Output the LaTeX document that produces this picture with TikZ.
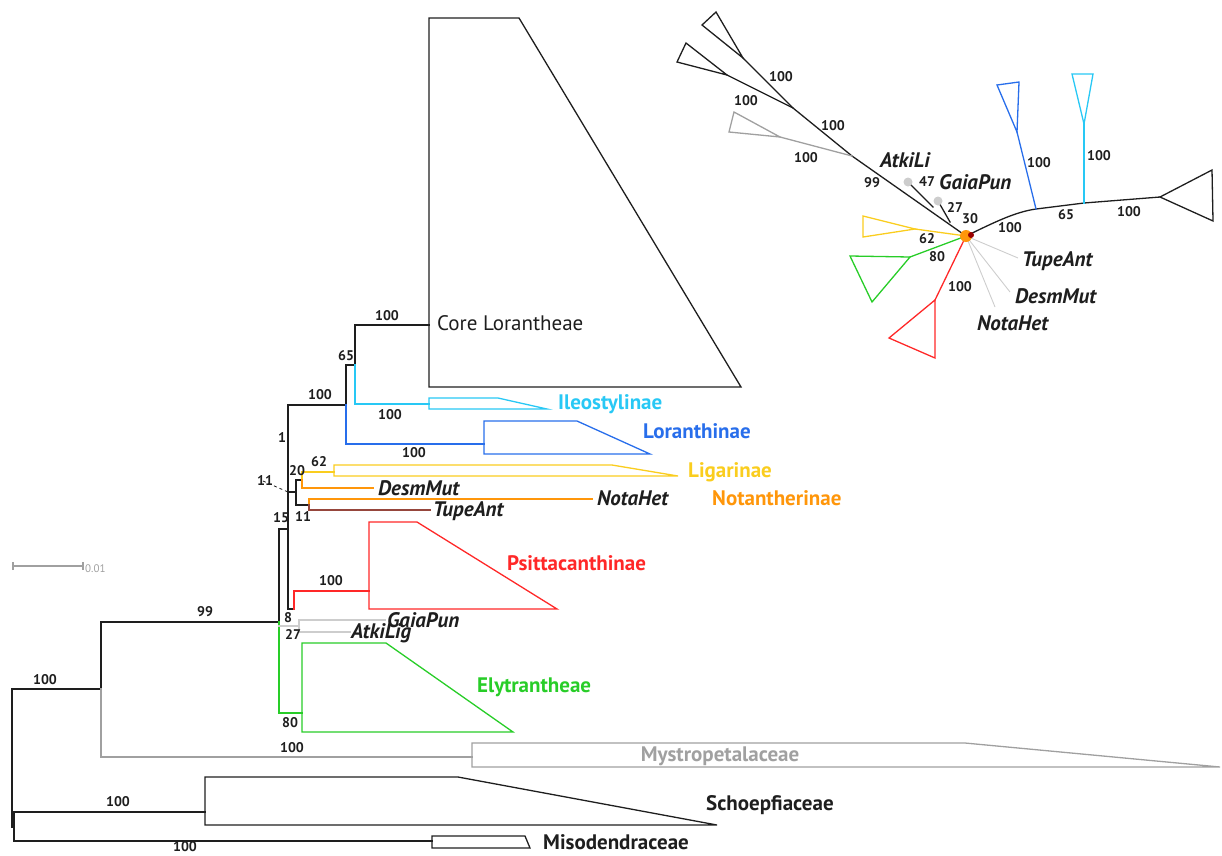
\documentclass[tikz,border=0pt]{standalone}
\usepackage{fontspec}
\setmainfont{PT Sans}
\definecolor{cyanc}{RGB}{40,200,245}
\definecolor{bluec}{RGB}{40,110,235}
\definecolor{yelc}{RGB}{250,205,30}
\definecolor{orac}{RGB}{255,150,10}
\definecolor{redc}{RGB}{255,40,40}
\definecolor{grnc}{RGB}{40,205,40}
\definecolor{grayc}{RGB}{160,160,160}
\definecolor{lgray}{RGB}{205,205,205}
\definecolor{brnc}{RGB}{150,70,60}
\definecolor{ink}{RGB}{30,30,30}
\begin{document}
\begin{tikzpicture}[x=1pt,y=-1pt,
  br/.style={line width=1.3pt, line cap=rect, draw=ink},
  clade/.style={line width=1.3pt, line join=miter},
  bs/.style={font=\bfseries\fontsize{14}{14}\selectfont, inner sep=0pt, text=ink},
  tx/.style={font=\fontsize{21}{21}\selectfont, inner sep=0pt, anchor=west, text=ink},
  txb/.style={font=\bfseries\fontsize{21}{21}\selectfont, inner sep=0pt, anchor=west},
  it/.style={font=\bfseries\itshape\fontsize{21}{21}\selectfont, inner sep=0pt, anchor=west, text=ink}]
\useasboundingbox (0,0) rectangle (1222,855);

% ---------- rooted tree: node positions ----------
\coordinate (r0) at (12,689);
\coordinate (r1) at (12,827);
\coordinate (og) at (14,827);
\coordinate (ogS) at (14,812);
\coordinate (ogM) at (14,841);
\coordinate (schL) at (205,812);
\coordinate (misL) at (432,841);
\coordinate (in) at (101,689);
\coordinate (inA) at (101,622);
\coordinate (inB) at (101,757);
\coordinate (mysL) at (472,757);
\coordinate (n99) at (279,622);
\coordinate (nA1) at (279,529);
\coordinate (nA2) at (279,713);
\coordinate (elyL) at (302,713);
\coordinate (bb1) at (288,529);
\coordinate (bbT) at (288,405);
\coordinate (bbB) at (288,609);
\coordinate (psN) at (294,609);
\coordinate (psK) at (294,591);
\coordinate (psL) at (369,591);
\coordinate (gaN) at (279,626);
\coordinate (gaK) at (299,626);
\coordinate (gaT) at (299,620);
\coordinate (gaB) at (299,632);
\coordinate (gaE) at (385,620);
\coordinate (atE) at (350,632);
\coordinate (n65) at (346,405);
\coordinate (n65T) at (346,365);
\coordinate (n65B) at (346,444);
\coordinate (lorL) at (484,444);
\coordinate (nCo) at (355,365);
\coordinate (nCoT) at (355,325);
\coordinate (nCoB) at (355,404);
\coordinate (corL) at (429,325);
\coordinate (ileL) at (429,404);
\coordinate (n11a) at (288,492);
\coordinate (n11aR) at (296,492);
\coordinate (n11aT) at (296,480);
\coordinate (n11aB) at (296,505);
\coordinate (n20) at (302,480);
\coordinate (n20T) at (302,472);
\coordinate (n20B) at (302,488);
\coordinate (ligL) at (334,472);
\coordinate (desE) at (373,488);
\coordinate (n11) at (309,505);
\coordinate (n11T) at (309,499);
\coordinate (n11B) at (309,510);
\coordinate (notE) at (592,499);
\coordinate (tupE) at (430,510);
\coordinate (lead) at (263,481);

% ---------- rooted tree: branches ----------
\draw[br] (r0) -- (r1) -- (og);
\draw[br] (ogS) -- (ogM);
\draw[br] (ogS) -- (schL);
\draw[br] (ogM) -- (misL);
\draw[br] (r0) -- (in);
\draw[br] (in) -- (inA) -- (n99);
\draw[br,draw=grayc] (in) -- (inB) -- (mysL);
\draw[br] (n99) -- (nA1) -- (bb1);
\draw[br,draw=grnc] (n99) -- (nA2) -- (elyL);
\draw[br] (bbT) -- (bbB) -- (psN);
\draw[br,draw=redc] (psN) -- (psK) -- (psL);
\draw[br,draw=lgray] (gaN) -- (gaK);
\draw[br,draw=lgray] (gaE) -- (gaT) -- (gaB) -- (atE);
\draw[br] (bbT) -- (n65);
\draw[br] (n65) -- (n65T) -- (nCo);
\draw[br,draw=bluec] (n65) -- (n65B) -- (lorL);
\draw[br] (nCo) -- (nCoT) -- (corL);
\draw[br,draw=cyanc] (nCo) -- (nCoB) -- (ileL);
\draw[line width=2.6pt, draw=ink] (288,448) -- (n11a);
\draw[br] (n11a) -- (n11aR);
\draw[br] (n11aT) -- (n11aB);
\draw[br] (n11aT) -- (n20);
\draw[br,draw=yelc] (n20) -- (n20T) -- (ligL);
\draw[br,draw=orac] (n20) -- (n20B) -- (desE);
\draw[br] (n11aB) -- (n11);
\draw[br,draw=orac] (n11) -- (n11T) -- (notE);
\draw[br,draw=brnc] (n11) -- (n11B) -- (tupE);
\draw[dashed, line width=0.8pt, draw=ink] (lead) -- (n11a);

% ---------- collapsed clades ----------
\draw[clade,draw=ink] (429,18) -- (519,18) -- (741,387) -- (429,387) -- cycle;
\draw[clade,draw=cyanc] (429,398) -- (498,398) -- (547,409) -- (429,409) -- cycle;
\draw[clade,draw=bluec] (484,421) -- (577,421) -- (650,454) -- (484,454) -- cycle;
\draw[clade,draw=yelc] (334,465) -- (612,465) -- (678,476) -- (334,476) -- cycle;
\draw[clade,draw=redc] (369,522) -- (417,522) -- (557,609) -- (369,609) -- cycle;
\draw[clade,draw=grnc] (302,643) -- (386,643) -- (513,732) -- (302,732) -- cycle;
\draw[clade,draw=grayc] (472,743) -- (965,743) -- (1220,767) -- (472,767) -- cycle;
\draw[clade,draw=ink] (205,777) -- (458,777) -- (717,825) -- (205,825) -- cycle;
\draw[clade,draw=ink] (432,836) -- (525,836) -- (530,848) -- (432,848) -- cycle;

% ---------- rooted tree: labels ----------
\node[tx] (lCore) at (437,323) {Core Lorantheae};
\node[txb,text=cyanc] (lIle) at (558,404) {Ileostylinae};
\node[txb,text=bluec] (lLor) at (643,431) {Loranthinae};
\node[txb,text=yelc] (lLig) at (688,472) {Ligarinae};
\node[txb,text=orac] (lNot) at (712,498) {Notantherinae};
\node[txb,text=redc] (lPsi) at (507,563) {Psittacanthinae};
\node[txb,text=grnc] (lEly) at (477,687) {Elytrantheae};
\node[txb,text=grayc,anchor=center] (lMys) at (720,756) {Mystropetalaceae};
\node[txb,text=ink] (lSch) at (706,805) {Schoepfiaceae};
\node[txb,text=ink] (lMis) at (543,842) {Misodendraceae};
\node[it] (lDes) at (378,488) {DesmMut};
\node[it] (lNH) at (597,498) {NotaHet};
\node[it] (lTA) at (433,511) {TupeAnt};
\node[it] (lGP) at (387,620) {GaiaPun};
\node[it] (lAL) at (351,633) {AtkiLig};

\node[bs] (b1) at (45,680) {100};
\node[bs] (b2) at (205,612) {99};
\node[bs] (b3) at (292,748) {100};
\node[bs] (b4) at (118,802) {100};
\node[bs] (b5) at (185,847) {100};
\node[bs] (b6) at (281,518) {15};
\node[bs] (b7) at (288,618) {8};
\node[bs] (b8) at (293,634) {27};
\node[bs] (b9) at (290,723) {80};
\node[bs] (b10) at (331,581) {100};
\node[bs] (b11) at (282,438) {1};
\node[bs] (b12) at (320,395) {100};
\node[bs] (b13) at (346,356) {65};
\node[bs] (b14) at (387,316) {100};
\node[bs] (b15) at (390,415) {100};
\node[bs] (b16) at (414,453) {100};
\node[bs] (b17) at (297,471) {20};
\node[bs] (b18) at (319,462) {62};
\node[bs] (b19) at (303,517) {11};
\node[bs] (b20) at (265,481) {11};

% ---------- scale bar ----------
\coordinate (sb0) at (13,566);
\coordinate (sb1) at (83,566);
\draw[grayc, line width=1.2pt] (sb0) -- (sb1);
\draw[grayc, line width=1.2pt] ([yshift=-4pt]sb0) -- ([yshift=4pt]sb0);
\draw[grayc, line width=1.2pt] ([yshift=-4pt]sb1) -- ([yshift=4pt]sb1);
\node[font=\fontsize{11}{11}\selectfont, text=grayc, inner sep=0pt, anchor=west] (sbl) at (85,569) {0.01};

% ---------- unrooted tree ----------
\coordinate (C) at (966,236);
\coordinate (uR1) at (1036,209);
\coordinate (uR2) at (1084,203);
\coordinate (uR3) at (1160,197);
\coordinate (uB) at (1017,132);
\coordinate (uC) at (1084,124);
\coordinate (uL1) at (852,156);
\coordinate (uL2) at (793,108);
\coordinate (uL3) at (743,58);
\coordinate (uL4) at (727,75);
\coordinate (uG) at (780,137);
\coordinate (uY) at (915,229);
\coordinate (uGr) at (910,257);
\coordinate (uRd) at (935,300);
\coordinate (uTA) at (1018,258);
\coordinate (uDM) at (1010,292);
\coordinate (uNH) at (995,307);
\coordinate (dA) at (908,182);
\coordinate (dG) at (938,201);
\coordinate (jA) at (933,207);
\coordinate (jG) at (950,222);

\draw[br] (C) .. controls (995,222) and (1015,212) .. (uR1) -- (uR2) -- (uR3);
\draw[clade,draw=ink] (uR3) -- (1212,170) -- (1213,221) -- cycle;
\draw[br,draw=bluec] (uR1) -- (uB);
\draw[clade,draw=bluec] (uB) -- (997,85) -- (1019,82) -- cycle;
\draw[br,draw=cyanc] (uR2) -- (uC);
\draw[clade,draw=cyanc] (uC) -- (1072,74) -- (1093,74) -- cycle;
\draw[br] (C) -- (uL1) -- (uL2) -- (uL3);
\draw[clade,draw=ink] (uL3) -- (702,25) -- (716,12) -- cycle;
\draw[br] (uL2) -- (uL4);
\draw[clade,draw=ink] (uL4) -- (686,43) -- (677,62) -- cycle;
\draw[br,draw=grayc] (uL1) -- (uG);
\draw[clade,draw=grayc] (uG) -- (734,112) -- (729,132) -- cycle;
\draw[br] (jA) -- (dA);
\draw[br] (jG) -- (dG);
\fill[lgray] (dA) circle (4.5);
\fill[lgray] (dG) circle (4.5);
\draw[br,draw=yelc] (C) -- (uY);
\draw[clade,draw=yelc] (uY) -- (863,216) -- (863,237) -- cycle;
\draw[br,draw=grnc] (C) -- (uGr);
\draw[clade,draw=grnc] (uGr) -- (850,256) -- (872,302) -- cycle;
\draw[br,draw=redc] (C) -- (uRd);
\draw[clade,draw=redc] (uRd) -- (889,338) -- (935,358) -- cycle;
\draw[line width=0.9pt, draw=lgray] (C) -- (uTA);
\draw[line width=0.9pt, draw=lgray] (C) -- (uDM);
\draw[line width=0.9pt, draw=lgray] (C) -- (uNH);
\fill[orac] (C) circle (6);
\fill[red!60!black] (971,235) circle (3);

\node[bs] (u1) at (781,77) {100};
\node[bs] (u2) at (746,101) {100};
\node[bs] (u3) at (833,126) {100};
\node[bs] (u4) at (806,158) {100};
\node[bs] (u5) at (872,183) {99};
\node[bs] (u6) at (927,182) {47};
\node[bs] (u7) at (955,207) {27};
\node[bs] (u8) at (970,219) {30};
\node[bs] (u9) at (927,239) {62};
\node[bs] (u10) at (937,257) {80};
\node[bs] (u11) at (960,287) {100};
\node[bs] (u12) at (1010,228) {100};
\node[bs] (u13) at (1066,215) {65};
\node[bs] (u14) at (1129,212) {100};
\node[bs] (u15) at (1039,163) {100};
\node[bs] (u16) at (1099,156) {100};
\node[it] (uAL) at (880,160) {AtkiLi};
\node[it] (uGP) at (939,182) {GaiaPun};
\node[it] (uTAl) at (1022,261) {TupeAnt};
\node[it] (uDMl) at (1015,296) {DesmMut};
\node[it] (uNHl) at (977,323) {NotaHet};
\end{tikzpicture}
\end{document}
